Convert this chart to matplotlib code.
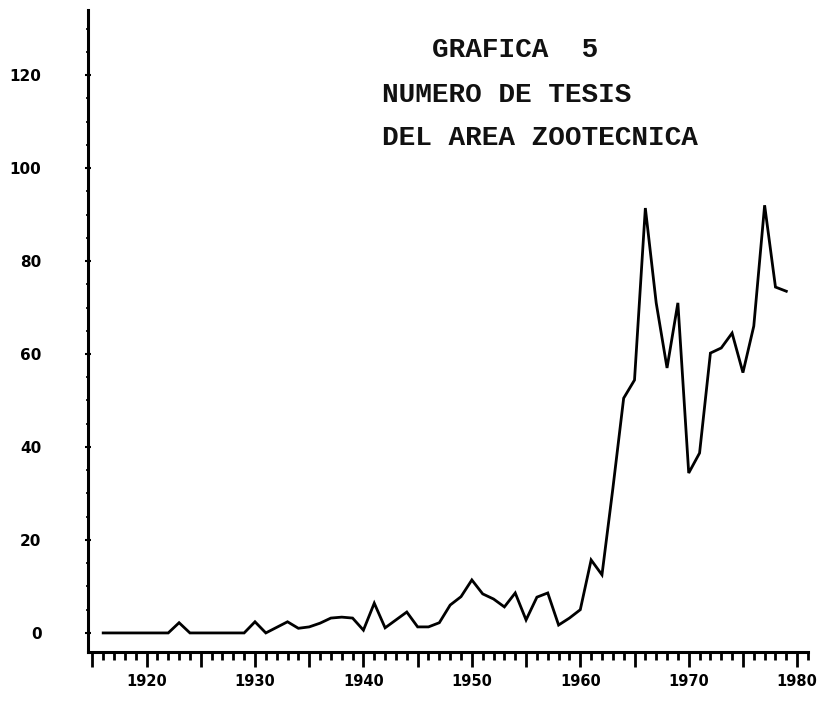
import matplotlib
matplotlib.use("Agg")
import matplotlib.pyplot as plt
from matplotlib.ticker import MultipleLocator, FixedLocator, FuncFormatter

# ---- data ----
years = list(range(1916, 1980))
tesis = [0, 0, 0, 0, 0, 0, 0,            # 1916-1922
         2.2, 0, 0, 0, 0, 0, 0,           # 1923-1929
         2.4, 0, 1.2, 2.4, 1.0, 1.3, 2.1, 3.2, 3.4, 3.2,   # 1930-1939
         0.6, 6.4, 1.1, 2.8, 4.5, 1.3, 1.3, 2.2, 6.0, 7.8,  # 1940-1949
         11.4, 8.4, 7.3, 5.6, 8.6, 2.8, 7.7, 8.6, 1.7, 3.2,  # 1950-1959
         5.0, 15.7, 12.5, 31.0, 50.5, 54.4, 91.4, 71.0, 57.0, 71.0,  # 1960-1969
         34.4, 38.7, 60.2, 61.3, 64.5, 56.0, 66.0, 92.0, 74.4, 73.5]  # 1970-1979
y_ticks = [0, 20, 40, 60, 80, 100, 120]
x_labels = [1920, 1930, 1940, 1950, 1960, 1970, 1980]
title_lines = ["GRAFICA  5", "NUMERO DE TESIS", "DEL AREA ZOOTECNICA"]

W, H = 820, 701
fig = plt.figure(figsize=(W / 100, H / 100), dpi=100)
ax = fig.add_axes([88 / W, 1 - 652 / H, (808 - 88) / W, (652 - 10) / H])

ax.plot(years, tesis, color="black", lw=2.0, solid_joinstyle="miter")

ax.set_xlim(1914.6, 1981.0)
ax.set_ylim(-4.1, 134)

for s in ["top", "right"]:
    ax.spines[s].set_visible(False)
for s in ["left", "bottom"]:
    ax.spines[s].set_linewidth(2.2)
    ax.spines[s].set_color("black")

# x ticks: major every 5 years, labels at decades, minor every year
ax.xaxis.set_major_locator(MultipleLocator(5))
ax.xaxis.set_minor_locator(MultipleLocator(1))
ax.xaxis.set_major_formatter(FuncFormatter(
    lambda v, p: str(int(round(v))) if int(round(v)) in x_labels else ""))
ax.tick_params(axis="x", which="major", direction="out", length=11, width=2.0,
               pad=5, labelsize=10.5)
ax.tick_params(axis="x", which="minor", direction="out", length=6, width=2.0)

# y ticks
ax.yaxis.set_major_locator(FixedLocator(y_ticks))
ax.yaxis.set_minor_locator(MultipleLocator(5))
ax.tick_params(axis="y", which="major", direction="inout", length=5, width=1.5,
               pad=31, labelsize=11)
ax.tick_params(axis="y", which="minor", direction="inout", length=3, width=1.2)

for lab in ax.get_xticklabels() + ax.get_yticklabels():
    lab.set_fontweight("bold")

# title block (typewriter style)
tx = [432, 382, 382]
ty = [50, 95, 138]
for t, x, y in zip(title_lines, tx, ty):
    fig.text(x / W, 1 - y / H, t, family="Liberation Mono", fontweight="bold",
             fontsize=20, ha="left", va="center", color="#111111")

fig.savefig("out.png", dpi=100)
